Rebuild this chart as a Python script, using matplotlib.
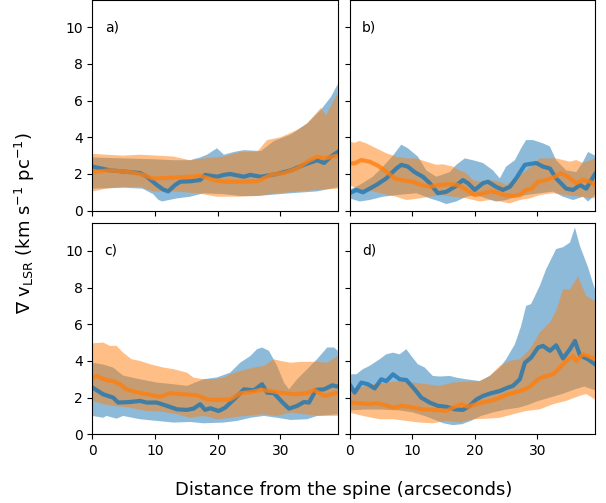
import numpy as np
import matplotlib
matplotlib.use("Agg")
import matplotlib.pyplot as plt

# === DATA ===
# each list is (distance, value) pairs; bands are upper / lower envelopes

# panel a)
a_blue = [(0, 2.4), (2.8, 2.2), (6.0, 2.1), (7.6, 2.05), (8.7, 1.85), (10.3, 1.4), (11.3, 1.15),
          (12.1, 1.05), (13.2, 1.4), (14.0, 1.58), (15.6, 1.6), (17.2, 1.67), (18.0, 1.95), (19.9, 1.85),
          (21.0, 1.95), (22.0, 2.0), (24.2, 1.85), (25.2, 1.95), (26.9, 1.85), (29.5, 2.0), (31.7, 2.2),
          (33.8, 2.5), (35.9, 2.75), (37.0, 2.6), (38.1, 2.95), (39.2, 3.2)]
a_blue_up = [(0, 2.9), (5, 2.85), (10, 2.8), (13, 2.75), (15.6, 2.75), (17.2, 2.9), (18.3, 3.05),
             (19.9, 3.4), (21.0, 3.05), (22.6, 3.2), (24.2, 3.3), (26.9, 3.25), (29.0, 3.8), (31.7, 4.15),
             (34.3, 4.75), (36.5, 5.5), (38.1, 6.2), (39.2, 6.9)]
a_blue_lo = [(0, 1.2), (5, 1.25), (8, 1.2), (9.7, 0.9), (10.5, 0.6), (11.1, 0.5), (13.5, 0.67),
             (15.6, 0.76), (17.75, 0.95), (21.0, 0.9), (23.6, 0.8), (26.3, 0.8), (31.7, 0.95),
             (35.9, 1.05), (38.1, 1.2), (39.2, 1.27)]
a_orange = [(0, 2.1), (2.8, 2.2), (6.0, 2.1), (8.1, 1.95), (9.7, 1.75), (13.0, 1.8), (15.6, 1.85),
            (17.2, 1.9), (19.4, 1.67), (21.0, 1.58), (23.1, 1.58), (26.3, 1.6), (28.5, 1.95),
            (30.6, 2.05), (32.7, 2.3), (34.3, 2.67), (35.9, 2.95), (37.0, 2.85), (39.2, 3.0)]
a_orange_up = [(0, 3.1), (2.25, 3.05), (4.9, 3.0), (7.6, 3.05), (10.3, 3.0), (12.9, 2.95), (15.6, 2.75),
               (17.75, 2.85), (21.0, 2.95), (23.6, 3.2), (26.3, 3.2), (27.9, 3.85), (30.05, 4.0),
               (32.7, 4.4), (34.3, 4.75), (36.5, 5.6), (37.3, 5.2), (39.2, 6.4)]
a_orange_lo = [(0, 1.05), (2.25, 1.2), (4.9, 1.3), (7.6, 1.3), (9.7, 1.05), (13.0, 1.05), (16.7, 0.95),
               (19.9, 0.76), (23.6, 0.76), (26.3, 0.8), (29.5, 0.95), (32.7, 1.04), (35.9, 1.13),
               (39.2, 1.2)]

# panel b)
b_blue = [(0, 0.95), (1.07, 1.13), (2.13, 1.0), (4.26, 1.4), (5.86, 1.76), (7.46, 2.3), (8.26, 2.5),
          (9.3, 2.4), (10.4, 2.1), (11.7, 1.85), (12.8, 1.5), (14.1, 0.95), (15.45, 1.03), (16.8, 1.3),
          (18.1, 1.67), (18.9, 1.5), (20.0, 1.13), (21.3, 1.5), (22.1, 1.58), (23.4, 1.3), (24.5, 1.13),
          (25.6, 1.3), (26.6, 1.76), (28.0, 2.5), (29.8, 2.6), (30.9, 2.4), (32.0, 2.3), (33.0, 1.76),
          (34.6, 1.2), (35.7, 1.13), (36.8, 1.4), (37.8, 1.2), (39.2, 2.0)]
b_blue_up = [(0, 1.13), (1.6, 1.4), (3.73, 1.85), (5.33, 2.4), (6.93, 3.0), (8.26, 3.6), (9.32, 3.4),
             (10.9, 2.95), (12.25, 2.2), (13.85, 1.85), (16.0, 2.1), (17.05, 2.5), (18.4, 2.85),
             (19.7, 2.75), (21.3, 2.6), (22.9, 2.2), (24.0, 1.76), (25.0, 2.4), (26.4, 2.75), (27.4, 3.4),
             (28.2, 3.85), (29.3, 3.85), (30.9, 3.67), (32.0, 3.5), (33.0, 2.75), (34.6, 2.2), (36.2, 2.1),
             (37.3, 2.67), (38.1, 3.2), (39.2, 3.0)]
b_blue_lo = [(0, 0.67), (1.6, 0.5), (3.2, 0.58), (5.33, 0.76), (7.46, 0.85), (10.66, 0.95), (12.8, 0.67),
             (14.4, 0.5), (15.45, 0.36), (17.05, 0.5), (18.65, 0.76), (20.25, 0.85), (21.8, 0.67),
             (23.4, 0.5), (25.0, 0.58), (26.6, 0.76), (28.2, 0.85), (30.4, 0.95), (32.5, 1.04),
             (34.1, 0.76), (35.7, 0.58), (37.3, 0.76), (38.1, 0.5), (39.2, 0.85)]
b_orange = [(0, 2.58), (0.8, 2.58), (1.86, 2.76), (3.2, 2.67), (4.53, 2.45), (5.86, 2.13), (7.19, 1.76),
            (8.79, 1.64), (10.1, 1.58), (11.45, 1.4), (12.8, 1.3), (14.4, 1.4), (16.0, 1.45), (17.3, 1.4),
            (18.65, 1.13), (20.0, 0.85), (21.3, 0.95), (22.6, 1.04), (23.4, 1.0), (24.8, 0.85),
            (26.1, 0.8), (27.2, 0.85), (28.2, 1.13), (29.0, 1.18), (30.1, 1.58), (31.4, 1.67),
            (32.8, 1.85), (33.8, 2.04), (34.9, 1.85), (36.2, 1.5), (37.3, 1.67), (38.4, 1.58), (39.2, 1.4)]
b_orange_up = [(0, 3.76), (0.8, 3.7), (1.6, 3.8), (2.66, 3.67), (4.26, 3.4), (5.86, 3.13), (7.46, 2.95),
               (9.06, 2.85), (10.66, 2.85), (12.25, 2.67), (13.85, 2.5), (14.9, 2.53), (16.5, 2.4),
               (17.6, 2.2), (18.65, 2.04), (19.7, 1.67), (20.8, 1.58), (22.4, 1.67), (24.0, 1.58),
               (25.0, 1.4), (26.1, 1.67), (27.7, 2.04), (29.0, 2.4), (30.4, 2.85), (33.0, 2.85),
               (35.2, 2.67), (36.2, 2.76), (37.3, 2.6), (39.2, 2.85)]
b_orange_lo = [(0, 1.4), (1.6, 1.13), (3.73, 1.04), (7.46, 0.76), (9.06, 0.58), (11.2, 0.67), (12.8, 0.76),
               (14.4, 0.85), (16.5, 0.76), (18.65, 0.67), (20.8, 0.5), (22.4, 0.58), (24.0, 0.5),
               (25.6, 0.4), (27.2, 0.58), (28.8, 0.67), (30.4, 0.85), (32.5, 0.95), (34.6, 0.85),
               (36.8, 0.76), (39.2, 0.67)]

# panel c)
c_blue = [(0, 2.55), (1.71, 2.18), (3.3, 2.0), (4.1, 1.73), (6.0, 1.76), (7.6, 1.82), (8.66, 1.73),
          (10.27, 1.73), (11.9, 1.55), (13.5, 1.36), (15.1, 1.33), (16.15, 1.4), (17.2, 1.64), (18.0, 1.33),
          (18.8, 1.42), (20.16, 1.27), (21.2, 1.45), (22.6, 1.9), (24.2, 2.45), (25.8, 2.4), (27.1, 2.73),
          (27.9, 2.27), (29.0, 2.24), (30.3, 1.76), (31.4, 1.4), (32.7, 1.55), (33.8, 1.76), (34.6, 1.73),
          (35.7, 2.42), (37.0, 2.45), (38.3, 2.67), (39.2, 2.6)]
c_blue_up = [(0, 3.9), (1.71, 3.8), (3.3, 3.64), (4.9, 3.2), (7.6, 3.0), (10.27, 2.82), (12.94, 2.73),
             (15.1, 2.64), (17.75, 3.0), (19.9, 3.1), (22.0, 3.36), (23.6, 3.9), (25.24, 4.27), (26.3, 4.64),
             (27.1, 4.73), (28.2, 4.55), (29.5, 3.73), (30.6, 2.82), (31.4, 2.45), (32.7, 3.0), (34.3, 3.55),
             (35.9, 4.1), (37.5, 4.73), (38.6, 4.73), (39.2, 4.55)]
c_blue_lo = [(0, 1.0), (1.71, 0.9), (2.25, 1.0), (3.85, 0.85), (4.9, 1.0), (7.6, 0.82), (10.27, 0.73),
             (12.94, 0.64), (15.6, 0.67), (17.75, 0.6), (21.0, 0.64), (23.1, 0.73), (25.24, 0.9),
             (27.4, 1.0), (29.5, 0.9), (31.66, 0.78), (34.3, 0.82), (35.9, 1.0), (39.2, 1.09)]
c_orange = [(0, 3.09), (0.64, 3.18), (2.25, 2.95), (3.3, 2.9), (4.4, 2.73), (5.45, 2.45), (7.06, 2.3),
            (8.66, 2.18), (10.8, 2.05), (12.4, 2.24), (14.5, 2.18), (16.7, 2.13), (18.3, 1.9), (19.9, 1.87),
            (22.0, 1.9), (23.6, 2.24), (25.24, 2.3), (26.85, 2.42), (28.45, 2.36), (30.05, 2.27),
            (32.2, 2.18), (34.3, 2.24), (35.4, 2.42), (37.0, 2.09), (39.2, 2.27)]
c_orange_up = [(0, 4.96), (1.71, 5.0), (2.78, 4.82), (3.85, 4.82), (4.9, 4.45), (6.26, 4.09), (7.6, 4.0),
               (9.2, 3.82), (11.3, 3.64), (12.94, 3.55), (15.1, 3.36), (16.15, 3.09), (17.75, 3.0),
               (19.36, 3.0), (21.0, 3.09), (22.0, 3.27), (23.6, 3.45), (25.8, 3.64), (27.4, 3.73),
               (29.0, 4.09), (30.05, 4.0), (31.66, 3.9), (33.3, 3.95), (35.9, 3.95), (37.5, 3.9), (39.2, 4.27)]
c_orange_lo = [(0, 1.82), (1.71, 1.64), (3.3, 1.55), (6.0, 1.45), (8.66, 1.27), (11.3, 1.22), (13.5, 1.09),
               (15.6, 0.9), (17.75, 1.0), (19.9, 0.82), (22.0, 0.9), (24.2, 1.0), (27.4, 1.09), (29.5, 1.0),
               (31.66, 1.18), (33.8, 1.09), (36.5, 1.0), (39.2, 1.0)]

# panel d)
d_blue = [(0, 2.73), (0.8, 2.27), (1.86, 2.82), (2.93, 2.73), (4.0, 2.5), (5.06, 3.0), (5.86, 2.9),
          (6.93, 3.27), (8.0, 3.0), (9.06, 2.96), (10.4, 2.45), (11.45, 2.0), (12.8, 1.73), (14.1, 1.55),
          (15.45, 1.5), (16.8, 1.36), (18.1, 1.33), (19.2, 1.55), (20.25, 1.9), (21.3, 2.09), (22.6, 2.24),
          (24.0, 2.36), (25.3, 2.55), (26.1, 2.64), (27.2, 3.0), (28.0, 3.9), (29.0, 4.18), (30.1, 4.73),
          (30.9, 4.82), (32.0, 4.55), (33.0, 4.85), (34.1, 4.13), (35.2, 4.64), (36.0, 5.09), (36.8, 4.3),
          (38.1, 4.09), (39.2, 3.82)]
d_blue_up = [(0, 3.27), (1.07, 3.27), (2.13, 3.55), (3.2, 3.73), (4.8, 4.09), (5.86, 4.36), (6.93, 4.45),
             (8.0, 4.36), (9.06, 4.64), (9.86, 4.27), (10.9, 3.82), (12.0, 3.64), (13.3, 3.18), (14.4, 3.15),
             (16.0, 3.18), (17.05, 3.09), (18.65, 3.0), (20.8, 2.9), (22.4, 3.18), (24.0, 3.64), (25.0, 4.09),
             (26.4, 4.9), (27.4, 5.9), (28.2, 7.0), (29.0, 7.1), (30.4, 8.1), (31.4, 9.0), (33.0, 10.1),
             (34.1, 10.2), (35.2, 10.45), (36.0, 11.27), (36.8, 10.27), (38.1, 9.1), (39.2, 7.9)]
d_blue_lo = [(0, 1.3), (2.5, 1.35), (5, 1.35), (8, 1.3), (10, 1.2), (12, 1.0), (13.5, 0.8), (15, 0.6),
             (16.5, 0.5), (18, 0.55), (19.5, 0.75), (21, 1.0), (23, 1.2), (25, 1.35), (27, 1.45),
             (28.5, 1.6), (30, 1.8), (32, 2.0), (34, 2.2), (36, 2.45), (37.5, 2.6), (39.2, 2.4)]
d_orange = [(0, 1.73), (1.6, 1.69), (3.2, 1.64), (4.26, 1.69), (5.86, 1.58), (6.93, 1.45), (8.5, 1.55),
            (10.1, 1.45), (11.7, 1.36), (13.3, 1.33), (14.4, 1.31), (15.45, 1.27), (16.8, 1.5), (17.85, 1.64),
            (18.9, 1.5), (20.25, 1.64), (21.3, 1.76), (22.6, 1.82), (24.0, 2.0), (25.3, 2.18), (26.6, 2.3),
            (28.0, 2.45), (29.0, 2.64), (30.1, 3.0), (31.4, 3.18), (32.5, 3.27), (33.6, 3.64), (34.6, 4.0),
            (35.7, 4.27), (36.2, 4.0), (37.3, 4.36), (38.1, 4.27), (39.2, 4.09)]
d_orange_up = [(0, 2.45), (1.6, 2.55), (3.73, 2.73), (5.86, 2.82), (8.0, 2.9), (10.1, 2.82), (12.25, 2.73),
               (14.4, 2.64), (16.5, 2.82), (18.65, 2.87), (20.8, 2.9), (22.4, 3.18), (24.0, 3.73),
               (25.6, 4.0), (27.2, 4.09), (28.8, 4.64), (30.4, 5.55), (32.0, 6.09), (33.0, 6.73),
               (34.1, 7.9), (35.2, 7.9), (36.5, 8.6), (37.8, 7.55), (39.2, 7.27)]
d_orange_lo = [(0, 1.18), (2.13, 1.0), (4.8, 0.82), (6.93, 0.82), (9.06, 0.73), (11.2, 0.64), (13.3, 0.6),
               (15.45, 0.73), (17.6, 0.64), (19.7, 0.82), (21.8, 0.85), (24.0, 0.9), (26.1, 1.09),
               (28.2, 1.27), (30.4, 1.36), (32.5, 1.64), (34.6, 1.82), (36.8, 2.1), (37.8, 2.2), (39.2, 1.9)]

panel_labels = ["a)", "b)", "c)", "d)"]
x_ticks = [0, 10, 20, 30]
y_ticks = [0, 2, 4, 6, 8, 10]

panels = [
    (a_blue, a_blue_up, a_blue_lo, a_orange, a_orange_up, a_orange_lo),
    (b_blue, b_blue_up, b_blue_lo, b_orange, b_orange_up, b_orange_lo),
    (c_blue, c_blue_up, c_blue_lo, c_orange, c_orange_up, c_orange_lo),
    (d_blue, d_blue_up, d_blue_lo, d_orange, d_orange_up, d_orange_lo),
]


def band(ax, up, lo, color):
    up = np.array(up)
    lo = np.array(lo)[::-1]
    xs = np.r_[up[:, 0], lo[:, 0]]
    ys = np.r_[up[:, 1], lo[:, 1]]
    ax.fill(xs, ys, color=color, alpha=0.5, lw=0)


fig, axes = plt.subplots(2, 2, sharex=True, sharey=True, figsize=(6.06, 5.03), dpi=100)
fig.subplots_adjust(left=0.1526, right=0.9818, bottom=0.1366, top=1.0006, wspace=0.048, hspace=0.06)

for ax, lab, (bl, bu, bd, ol, ou, od) in zip(axes.flat, panel_labels, panels):
    band(ax, bu, bd, "tab:blue")
    band(ax, ou, od, "tab:orange")
    bl = np.array(bl)
    ol = np.array(ol)
    ax.plot(bl[:, 0], bl[:, 1], color="tab:blue", lw=3, alpha=0.8)
    ax.plot(ol[:, 0], ol[:, 1], color="tab:orange", lw=3, alpha=0.8)
    ax.text(0.05, 0.87, lab, transform=ax.transAxes, va="center", fontsize=10)
    ax.set_xlim(0, 39.2)
    ax.set_ylim(0, 11.5)
    ax.set_xticks(x_ticks)
    ax.set_yticks(y_ticks)

fig.text(0.041, 0.557, r"$\nabla$ v$_{\rm LSR}$ (km s$^{-1}$ pc$^{-1}$)",
         rotation=90, ha="center", va="center", fontsize=13)
fig.text(0.567, 0.026, "Distance from the spine (arcseconds)", ha="center", va="center", fontsize=13)

fig.savefig("out.png", dpi=100)
